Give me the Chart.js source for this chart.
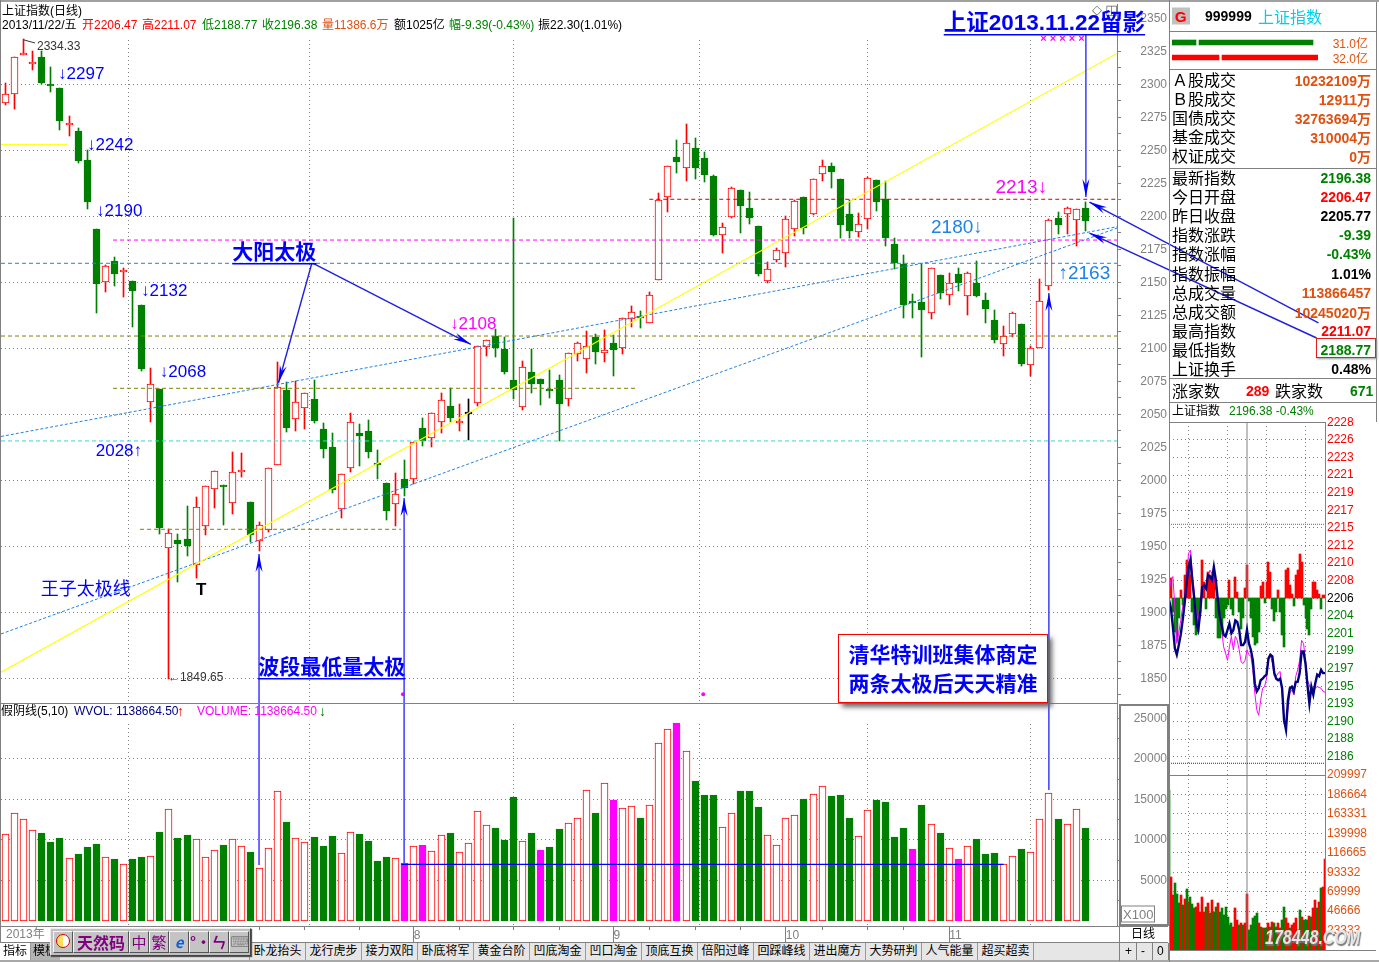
<!DOCTYPE html>
<html>
<head>
<meta charset="utf-8">
<title>上证指数(日线)</title>
<script src="https://cdn.jsdelivr.net/npm/chart.js@4"></script>
<style>
  html, body { margin: 0; padding: 0; background: #fff; overflow: hidden; }
  body { width: 1379px; height: 962px; position: relative; font-family: "Liberation Sans", "Noto Sans CJK SC", sans-serif; font-size: 12px; }
  canvas { position: absolute; display: block; }
  .t { position: absolute; white-space: nowrap; transform: translateY(-50%); line-height: 1.2; }
  .ln { position: absolute; background: #808080; }
  .tab { position: absolute; top: 943px; height: 17px; line-height: 17px; width: 55px; text-align: center; background: #e6e6e6; border-right: 1px solid #9a9a9a; }
  #callout { position: absolute; left: 838px; top: 634px; width: 210px; height: 69px; box-sizing: border-box; border: 1.5px solid #f00; background: #fff; box-shadow: 4px 4px 5px #666; color: #00f; font: bold 21px/29px "Noto Sans CJK SC", sans-serif; text-align: center; padding-top: 4px; z-index: 4; }
  #toolbar { position: absolute; left: 50px; top: 928px; width: 199px; height: 26px; background: #c0c0c0; border: 1px solid #eee; border-right-color: #444; border-bottom-color: #444; box-shadow: 1px 1px 1px #555; z-index: 5; }
  #toolbar span { position: absolute; top: 2px; height: 20px; line-height: 20px; text-align: center; color: #800080; background: #c4c4c4; border: 1px solid #f4f4f4; border-right-color: #555; border-bottom-color: #555; font: bold 15px/20px "Noto Sans CJK SC", sans-serif; overflow: hidden; }
</style>
</head>
<body>
<canvas id="priceChart" width="1379" height="962" style="left:0;top:0"></canvas>
<canvas id="volumeChart" width="1168" height="239" style="left:0;top:703px"></canvas>
<canvas id="flowChart" width="146" height="30" style="left:1172px;top:35px"></canvas>
<canvas id="intradayChart" width="210" height="369" style="left:1169px;top:414px"></canvas>
<canvas id="intradayVolChart" width="210" height="191" style="left:1169px;top:767px"></canvas>
<div id="callout">清华特训班集体商定<br>两条太极后天天精准</div>
<div id="toolbar">
  <span style="left:2px;width:18px"><i style="display:block;width:14px;height:14px;margin:2px;border:1.5px solid #d00;border-radius:50%;box-sizing:border-box;background:linear-gradient(90deg,#ffe060 50%,#fff 50%)"></i></span>
  <span style="left:22px;width:54px;font-family:'Noto Sans CJK SC';font-size:16px">天然码</span>
  <span style="left:78px;width:18px;font-weight:400">中</span>
  <span style="left:98px;width:18px;font-weight:400">繁</span>
  <span style="left:118px;width:18px;color:#1060d0;font-style:italic">e</span>
  <span style="left:138px;width:18px">°•</span>
  <span style="left:158px;width:18px">ㄣ</span>
  <span style="left:178px;width:18px;color:#888;font-family:'DejaVu Sans'">⌨</span>
</div>
<script>
// daily candles (index 0 = leftmost)
const candleOpen = [2286,2293,2323,2316,2320.5,2300.5,2297,2270,2264.6,2242.7,
  2190.4,2150,2166.2,2158.5,2151,2132.8,2059,2069.4,1948.5,1954.8,
  1955.6,1935.6,1965.7,1993.3,1996.4,1982.6,2006,1983.3,1953.8,1962.6,
  2011.4,2068.4,2046.2,2054.5,2061.4,2038.9,2025.3,1978.3,2009,2035.6,
  2037.4,2012.9,1997.7,1981.8,2001,2000.8,2039.6,2031.8,2043.9,2056.3,
  2044.5,2052,2058.3,2101.3,2109.3,2099.5,2076,2055.3,2082.1,2076.5,
  2069.4,2075.8,2061.4,2095.5,2092.2,2108.6,2096.7,2104,2100.5,2122,
  2124.5,2118.9,2151.5,2214.4,2244.9,2236.4,2251.5,2243.9,2230.6,2185.6,
  2199.2,2220,2206.3,2192.7,2150.8,2167.2,2172,2190.7,2214.4,2201.5,
  2231.8,2238.1,2228,2201.5,2188.4,2197.7,2227.3,2212.9,2179,2164.1,
  2135.6,2135.1,2126.5,2155.6,2140.2,2156.3,2139.4,2149.5,2136.6,2121.5,
  2103,2110.6,2118.4,2087.1,2100.5,2147,2198.5,2201.5,2197,2206.47];
const candleHigh = [2301,2321,2334.33,2325,2325,2313,2297,2276,2267,2250,
  2190.4,2163,2169.2,2160.6,2151,2132.8,2085,2069.4,1963,1959.3,
  1980.6,1987.4,1995.4,2007,1996.5,2021.2,2020.5,1983.3,1968.2,2009.5,
  2090,2074.7,2075.5,2065.9,2076,2043.2,2035.6,2004.8,2050.8,2042.7,
  2045.7,2022.8,1997.7,2005.6,2015.4,2029,2046.9,2050.8,2066.4,2069.7,
  2057.8,2061.4,2102,2106,2114.4,2108.6,2198.7,2090.4,2099.5,2076.5,
  2083.6,2079.5,2096.2,2104.8,2112.9,2110.9,2113.9,2109.9,2123,2132.1,
  2128.3,2142.7,2217.4,2238,2257.8,2270,2259.3,2248.7,2231.3,2194.7,
  2222,2220,2218.2,2192.7,2165.2,2175.8,2200.5,2212,2214.4,2228,
  2242.4,2240.4,2228,2212.4,2202.3,2229.5,2227.3,2226.5,2183.6,2170.7,
  2141.2,2164.1,2160.6,2155.6,2156.8,2160.6,2157.8,2166.2,2141.9,2129,
  2116.9,2127.5,2118.4,2101.8,2152.5,2198,2203,2206.8,2205.77,2211.07];
const candleLow = [2284,2281,2322,2311,2300,2294,2265,2261,2240.4,2205.6,
  2127,2143,2147.5,2139,2116.4,2083,2044,1959,1849.65,1923,
  1942.7,1926.3,1958.2,1979.3,1966.2,1974.6,2002.6,1953.3,1946.7,1961,
  2011.4,2036.9,2037.4,2039.1,2043.4,2017.2,1990.6,1971.2,2006,2011.1,
  2017.2,2001,1969.9,1965.7,1988.1,1997.5,2026,2025.5,2035.6,2044.4,
  2037.6,2030.6,2056.6,2094.2,2093.4,2080.6,2061.6,2053.5,2066.2,2057.1,
  2062.4,2029.8,2056.6,2090.7,2081.6,2088.4,2089.9,2079.3,2096,2116.2,
  2115.7,2118.9,2151.5,2203.5,2233.1,2227,2228.5,2226.3,2185.4,2172.5,
  2199,2187.6,2194.4,2155,2149.7,2165.7,2161.4,2185.1,2186.9,2201,
  2227,2221.7,2183.8,2183.8,2184.6,2190.4,2204,2177.8,2160.4,2123.2,
  2123.2,2093.7,2122.5,2137.4,2133.1,2143.4,2125.5,2138.9,2119.4,2104.3,
  2094.4,2108.8,2086.9,2079,2100.5,2144.2,2186.6,2186.6,2177.8,2188.77];
const candleClose = [2293,2321,2324,2317,2301,2300,2272.5,2271,2242,2211,
  2148.7,2162,2156.3,2159,2143.7,2084.3,2072.7,1964,1960,1952,
  1950.3,1979.5,1995.4,2007,1995.2,2006,2007.6,1958.6,1965.9,2009.5,
  2070.5,2039.9,2059.1,2065.9,2044.9,2024,1992.9,2004.8,2043.9,2033.8,
  2021.8,2011.4,1977,1989.9,1994.4,2029,2030,2050.8,2060.6,2047.5,
  2045,2052,2101.8,2106,2100.3,2082.1,2068.7,2085.6,2073.2,2073.2,
  2067.9,2058.1,2096.2,2103.8,2101.5,2097.5,2098.5,2098.7,2122.7,2127.3,
  2123.5,2140.2,2212.4,2237.9,2241.4,2255.3,2236.9,2231.6,2186.1,2191.7,
  2221.2,2208.1,2199,2156.3,2159.8,2174.2,2197.7,2211.4,2191.2,2228,
  2237.9,2233.8,2193.7,2189.1,2193.9,2229,2211.1,2183.8,2164.6,2133.1,
  2134.6,2129.3,2160.6,2142.2,2149.2,2149.7,2156.8,2139.9,2129.8,2106.3,
  2109.1,2126.5,2088.1,2100.5,2135.6,2197.2,2193.7,2206.6,2205.77,2196.38];

// daily volume (x100), the lowest-volume days are marked separately
const volumeValues = [10680,13269,12529,11173,10844,9735,10228,7721,8255,9118,
  9488,7885,7638,7022,7638,7885,8008,10967,13762,10228,
  10598,10063,7885,8707,9365,10063,9241,8501,6488,8995,
  16023,12200,10228,9735,10351,9241,10474,8337,10967,10721,
  9858,7392,7885,7721,7145,9200,9365,8584,10557,10844,
  8460,9570,13516,11790,11461,9981,15283,9817,10844,8748,
  9118,11337,12036,12653,16105,13310,16968,14954,13886,14132,
  12694,14256,21900,23626,24407,20914,17256,15530,15530,11543,
  13269,16023,16023,14050,10557,9323,12653,13022,15036,15612,
  16598,15406,15530,12694,10433,13639,14913,14667,10351,11461,
  8871,14297,11913,10844,8954,7638,9200,10104,8255,8378,
  6981,7967,8871,8460,12529,15735,12570,11913,13762,11461];
const lowVolumeDays = [44,46,59,67,74,100,105];
const volumeFloor = 6985;
const volumeFloorFrom = 43.6;
const volumeFloorTo = 110;
const volumeTicks = [2500,5000,7500,10000,12500,15000,17500,20000,22500,25000];

// month gridlines and the small date ticks under the volume panel
const monthIndex = [5,22,45,67,86,104];
const monthLabels = ['','','8','9','10','11'];
const weekIndex = [28,33,39,50,56,61,71,76,81,90,95,99];

// horizontal support / resistance levels
const levelPrices = [2182,2164.4,2109.3,2069.7,1962.9,2029.8,2212.9];
const levelFrom = [11.85,-0.5,-0.5,11.85,14.83,-0.5,70.95];
const levelTo = [122.5,122.5,122.5,69.7,43.6,122.5,122.5];

// hand drawn trend lines, [left, right]
const trendIndex = [-0.5,122.5];
const yellowTrend = [1854.7,2323.4];
const upperTrend = [2033.2,2192.1];
const lowerTrend = [1883.6,2191.1];
const yellowStub = [2254.5,2254.5];
const yellowStubIndex = [-0.5,6.8];
const markerDays = [43.8,76.9];
const markerPrice = 1838;

// notes on the price panel
const noteTexts = ['↓2297','↓2242','↓2190','↓2132','↓2068','2028↑','王子太极线','T','←1849.65','2334.33','↓2108','2213↓','2180↓','↑2163','大阳太极','波段最低量太极','◇','◫','上证2013.11.22留影','× × × × ×'];
const noteIndex = [5.79,8.98,9.98,14.94,17,9.94,3.88,21,17.9,3.47,49,109.1,102,116.05,25,27.85,119.75,121.2,103.4,114.05];
const notePrices = [2307.8,2254,2204,2143.4,2082,2022.2,1918.4,1916.9,1850.2,2328.5,2118.4,2221.4,2191.2,2156.3,2172.2,1857.9,2355.5,2355.5,2345.7,2334.7];
const noteKinds = ['blue','blue','blue','blue','blue','blue','thin','black','small','small','pink','pinkBig','sky','sky','big','big','icon','icon','title','tiny'];

// arrows: from -> tip, in day index and price
const arrowFromIndex = [33.76,33.9,27.94,43.93,114.99,119.07,144.7,144.5];
const arrowFromPrice = [2164.4,2164.4,1708.6,1710.1,1765.4,2337.3,2119.2,2107.8];
const arrowToIndex = [30.08,51.28,27.94,43.93,114.99,119.07,119.46,119.46];
const arrowToPrice = [2073.7,2103,1944.2,1986.6,2141.9,2214.6,2210.8,2187.3];

// intraday panel, one sample every 3 minutes
const minuteTicks = [60,120,180];
const intradayPrice = [2205.6,2204.5,2202.2,2199.5,2198.7,2199.9,2201.2,2203,2205.1,2207.6,2209.7,2210.6,2207.9,2205.6,2202.6,2201.8,2203.9,2207.2,2207.4,2207,
  2208.7,2208.5,2208.1,2209.7,2208.1,2205.6,2203.5,2202.4,2201.2,2201,2201.8,2202.6,2201.4,2201.8,2203,2202.8,2201.8,2199.9,2199.9,2200.3,
  2201.8,2200.1,2199.3,2198,2195.1,2194.1,2194.5,2195.5,2195.7,2196,2196.2,2198.2,2198.7,2198.5,2196.4,2195.7,2195.5,2195.7,2194.5,2190.5,
  2189.3,2193,2194.5,2194.7,2194.1,2195.3,2195.3,2196.4,2199.1,2199.1,2197.6,2194.9,2192.6,2194.7,2193.7,2195.1,2196.2,2196,2196.8,2196.4,2196.4];
const intradayAvg = [2206.4,2208.1,2208.5,2204.7,2200.1,2201.4,2203,2204.7,2206,2208.1,2211.4,2211.8,2208.9,2206.4,2203.9,2203,2205.1,2206.8,2207.4,2206.8,
  2208.5,2209.3,2208.9,2209.3,2206.8,2206,2203.5,2201.8,2199.7,2198.9,2198,2199.7,2201,2199.3,2201,2200.5,2199.3,2197.8,2197.6,2198,
  2199.3,2198.7,2198.5,2196.8,2193.9,2191.8,2191.1,2193,2194.5,2194.7,2195.7,2198.5,2198.7,2197.6,2196,2196,2196.4,2196.6,2193.9,2190.1,
  2189.5,2191.8,2193.9,2194.3,2193.7,2196,2196.8,2198,2200.5,2200.1,2198,2195.5,2194.9,2193.9,2194.7,2194.5,2194.7,2194.6,2194.5,2194.1,2194];
const intradayFlow = [1.3,2.5,-1.7,-4.2,-5.4,-2.5,1,-0.8,2.9,4.8,4.6,2.9,-1.7,-3.3,-4.6,-4.2,-1.7,4.8,2.1,-1.3,
  3.3,2.9,2.5,3.1,-2.5,-5,-5,-3.8,-2.5,-1.3,-0.8,2.3,-1.3,-2.1,2.7,0.8,-1.7,-3.8,-2.5,1.3,
  4.2,-0.4,-2.5,-4.8,-5.8,-5.6,-4.2,1.5,2.1,-0.6,2.1,4.6,3.3,-1.3,-2.9,-1.7,1,-1.7,-4.6,-6.1,
  3.6,3.8,1.7,0.6,-1,2.9,3.6,5.6,4.6,-0.8,-2.5,-3.8,-4.6,-1.3,2.1,2.1,1,0.6,-1.3,0.4,0.4];
const intradayVolume = [192000,88000,66000,80000,67200,56000,66000,54000,60800,72800,58000,64000,55200,50000,51200,56000,46000,63200,46000,52000,
  56000,44000,60000,46000,52000,56000,46000,50000,42000,52000,40000,30000,32000,28000,50000,36000,30000,32000,30000,32000,
  67200,24000,30000,38000,40800,44000,32000,28000,26000,26000,26000,32000,28000,34000,32000,28000,32000,26000,36000,52000,
  38000,32000,26000,30000,32000,38000,24000,48000,40000,36000,36000,36000,40800,40000,50000,60000,50000,58000,74000,76000,108800];
const intradayVolUp = [0,1,1,0,0,0,1,0,1,0,1,0,0,0,1,1,1,1,1,0,
  1,0,1,0,0,1,0,0,0,0,0,0,0,1,1,1,0,1,0,1,
  1,0,0,0,0,0,1,0,1,0,0,1,0,1,0,0,1,1,0,0,
  1,1,0,1,1,1,0,0,1,0,0,0,1,0,1,1,0,1,0,1,1];
const prevClose = 2205.77;
const intradayTicks = [2227.83,2225.62,2223.42,2221.21,2219,2216.8,2214.59,2212.39,2210.18,2207.98,2205.77,2203.56,2201.36,2199.15,2196.95,2194.74,2192.53,2190.33,2188.12,2185.92];
const intradayVolTicks = [23333,46666,69999,93332,116665,139998,163331,186664,209997];
const upperBand = 2215.04;
const lowerBand = 2185.1;

// buy / sell bars at the top of the side panel
const flowNames = ['31.0亿','32.0亿'];
const flowLead = [24,47];
const flowGap = [3,3];
const flowRest = [114,96];

// side panel quote table
const tradeNames = ['Ａ股成交','Ｂ股成交','国债成交','基金成交','权证成交'];
const tradeValues = ['10232109万','12911万','32763694万','310004万','0万'];
const quoteNames = ['最新指数','今日开盘','昨日收盘','指数涨跌','指数涨幅','指数振幅','总成交量','总成交额','最高指数','最低指数','上证换手'];
const quoteValues = ['2196.38','2206.47','2205.77','-9.39','-0.43%','1.01%','113866457','10245020万','2211.07','2188.77','0.48%'];
const tabNames = ['卧龙抬头','龙行虎步','接力双阳','卧底将军','黄金台阶','凹底淘金','凹口淘金','顶底互换','倍阳过峰','回踩峰线','进出魔方','大势研判','人气能量','超买超卖'];

const RED = '#ff0000', GREEN = '#008000', PINK = '#ff00ff', GRAY = '#808080', SKY = '#1e82e6', ORANGE = '#e05010';
const LATIN = '"Liberation Sans","Noto Sans CJK SC",sans-serif';
const CJK = '"Noto Sans CJK SC",sans-serif';

Chart.defaults.animation = false;
Chart.defaults.font.family = LATIN;
Chart.defaults.font.size = 12;

// the terminal draws on whole pixels, so snap the bars the same way
const snapBars = {
  id: 'snapBars',
  afterDatasetsUpdate(chart) {
    chart.getSortedVisibleDatasetMetas().forEach(meta => {
      if (meta.type !== 'bar') return;
      meta.data.forEach(el => {
        el.x = el.width % 2 ? Math.floor(el.x) + 0.5 : Math.round(el.x);
        el.y = Math.round(el.y);
        el.base = Math.round(el.base);
        if (meta.controller.getDataset().minBody && Math.abs(el.y - el.base) < 2) el.base = el.y + 2;
      });
    });
  }
};

function lineSet(xs, ys, color, dash, width, order) {
  return {
    type: 'line',
    data: xs.map((x, i) => ({ x: x, y: ys[i] })),
    borderColor: color,
    borderWidth: width,
    borderDash: dash,
    pointRadius: 0,
    order: order,
    tension: 0
  };
}

// tick padding must not push the plot area in, the panels are pixel fitted
function fitWidth(width) {
  return s => { s.width = width; s.paddingTop = 0; s.paddingBottom = 0; };
}
function fitHeight(height) {
  return s => { s.height = height; s.paddingLeft = 0; s.paddingRight = 0; };
}

const candleColor = i => candleClose[i] > candleOpen[i] ? RED : candleClose[i] < candleOpen[i] ? GREEN : '#000000';

// ---------- daily price panel ----------
const noteFonts = {
  blue: ['17px ' + LATIN, '#0000ff'],
  thin: ['18px ' + CJK, '#0000ff'],
  black: ['bold 17px ' + LATIN, '#000000'],
  small: ['12px ' + LATIN, '#333333'],
  pink: ['17px ' + LATIN, PINK],
  pinkBig: ['19px ' + LATIN, PINK],
  sky: ['19px ' + LATIN, SKY],
  big: ['bold 21px ' + LATIN, '#0000ff'],
  title: ['bold 22.5px ' + LATIN, '#0000ff'],
  icon: ['13px "DejaVu Sans",sans-serif', '#666666'],
  tiny: ['bold 11px ' + LATIN, PINK]
};

function drawArrow(ctx, x0, y0, x1, y1) {
  const a = Math.atan2(y1 - y0, x1 - x0);
  const vertical = x0 === x1;
  ctx.strokeStyle = vertical ? '#4848ff' : '#2020e0';
  ctx.lineWidth = vertical ? 1.6 : 1.4;
  ctx.beginPath();
  ctx.moveTo(x0, y0);
  ctx.lineTo(x1, y1);
  ctx.stroke();
  ctx.fillStyle = '#0000ff';
  ctx.beginPath();
  ctx.moveTo(x1, y1);
  ctx.lineTo(x1 - 18 * Math.cos(a) + 3.5 * Math.sin(a), y1 - 18 * Math.sin(a) - 3.5 * Math.cos(a));
  ctx.lineTo(x1 - 12 * Math.cos(a), y1 - 12 * Math.sin(a));
  ctx.lineTo(x1 - 18 * Math.cos(a) - 3.5 * Math.sin(a), y1 - 18 * Math.sin(a) + 3.5 * Math.cos(a));
  ctx.closePath();
  ctx.fill();
}

const priceNotes = {
  id: 'priceNotes',
  beforeDatasetsDraw(chart) {
    // gridlines stop under the two header rows
    const ctx = chart.ctx, area = chart.chartArea;
    ctx.save();
    ctx.fillStyle = '#fff';
    ctx.fillRect(area.left, area.top, area.width, chart.scales.y.getPixelForValue(2335) - area.top);
    ctx.restore();
  },
  afterDraw(chart) {
    const ctx = chart.ctx, sx = chart.scales.x, sy = chart.scales.y;
    ctx.save();
    arrowFromIndex.forEach((v, i) => {
      drawArrow(ctx, sx.getPixelForValue(v), sy.getPixelForValue(arrowFromPrice[i]), sx.getPixelForValue(arrowToIndex[i]), sy.getPixelForValue(arrowToPrice[i]));
    });
    ctx.textBaseline = 'middle';
    noteTexts.forEach((t, i) => {
      const kind = noteKinds[i];
      const f = noteFonts[kind];
      const x = sx.getPixelForValue(noteIndex[i]), y = sy.getPixelForValue(notePrices[i]);
      ctx.font = f[0];
      ctx.fillStyle = f[1];
      ctx.fillText(t, x, y);
      if (kind === 'big' || kind === 'title') {
        ctx.fillRect(x, Math.round(y) + 10, ctx.measureText(t).width, 1.5);
      }
    });
    // leader of the 2334.33 high
    ctx.strokeStyle = '#333';
    ctx.lineWidth = 1;
    ctx.beginPath();
    ctx.moveTo(sx.getPixelForValue(2.04), sy.getPixelForValue(2333.6));
    ctx.lineTo(sx.getPixelForValue(3.25), sy.getPixelForValue(2331.3));
    ctx.stroke();
    ctx.restore();
  }
};

const levelStyles = [[PINK,[4,3]],[SKY,[4,3]],['#808000',[4,3]],['#808000',[4,3]],['#808000',[4,3]],['#30d8d8',[4,3]],['#d00000',[4,3]]];
const dayIndex = candleOpen.map((_, i) => i);

new Chart(document.getElementById('priceChart'), {
  type: 'bar',
  plugins: [snapBars, priceNotes],
  data: {
    datasets: [
      ...levelPrices.map((p, i) => lineSet([levelFrom[i], levelTo[i]], [p, p], levelStyles[i][0], levelStyles[i][1], 1, 1)),
      lineSet(trendIndex, upperTrend, SKY, [3,2], 1, 1),
      lineSet(trendIndex, lowerTrend, SKY, [3,2], 1, 1),
      lineSet(trendIndex, yellowTrend, '#ffff00', [], 1.2, 0),
      lineSet(yellowStubIndex, yellowStub, '#ffff00', [], 1, 0),
      {
        type: 'line',
        data: markerDays.map(d => ({ x: d, y: markerPrice })),
        showLine: false,
        pointRadius: 2,
        pointBackgroundColor: PINK,
        pointBorderWidth: 0,
        order: 0
      },
      {
        data: dayIndex.map(i => ({ x: i, y: [candleOpen[i], candleClose[i]] })),
        barThickness: 7,
        grouped: false,
        minBody: true,
        borderSkipped: false,
        borderWidth: 1,
        borderColor: dayIndex.map(candleColor),
        backgroundColor: dayIndex.map(i => candleClose[i] > candleOpen[i] ? '#ffffff' : candleColor(i)),
        order: 2
      },
      {
        data: dayIndex.map(i => ({ x: i, y: [candleLow[i], candleHigh[i]] })),
        barThickness: 1,
        grouped: false,
        borderWidth: 0,
        backgroundColor: dayIndex.map(candleColor),
        order: 3
      }
    ]
  },
  options: {
    responsive: false,
    layout: { autoPadding: false, padding: { left: 1, top: 4, right: 212, bottom: 259 } },
    plugins: { legend: { display: false }, tooltip: { enabled: false } },
    events: [],
    scales: {
      x: {
        type: 'linear',
        offset: false,
        min: -0.5,
        max: 122.5,
        afterBuildTicks: s => { s.ticks = monthIndex.map(v => ({ value: v })); },
        afterFit: fitHeight(0),
        ticks: { display: false },
        grid: { color: GRAY, drawTicks: false },
        border: { display: false, dash: [1,3] }
      },
      y: {
        position: 'right',
        min: 1831.3,
        max: 2360.83,
        afterFit: fitWidth(50),
        ticks: {
          stepSize: 12.5,
          includeBounds: false,
          autoSkip: false,
          color: GRAY,
          padding: 18,
          crossAlign: 'far',
          callback: v => (v % 25 === 0 ? String(v) : '')
        },
        grid: {
          tickLength: 4,
          tickColor: GRAY,
          color: c => (c.tick && c.tick.value % 50 === 0 && c.tick.value < 2350 ? GRAY : 'transparent')
        },
        border: { color: GRAY, dash: [1,3] }
      }
    }
  }
});

// ---------- volume panel ----------
const volumeAxis = {
  id: 'volumeAxis',
  beforeDatasetsDraw(chart) {
    const area = chart.chartArea;
    chart.ctx.clearRect(area.left, area.top, area.width, chart.scales.y.getPixelForValue(24400) - area.top);
  },
  afterDraw(chart) {
    const ctx = chart.ctx, sx = chart.scales.x, bottom = chart.chartArea.bottom;
    ctx.save();
    ctx.fillStyle = GRAY;
    monthIndex.forEach((m, i) => {
      if (monthLabels[i]) ctx.fillRect(Math.floor(sx.getPixelForValue(m)), bottom, 1, 16);
    });
    weekIndex.forEach(m => ctx.fillRect(Math.floor(sx.getPixelForValue(m)), bottom, 1, 4));
    ctx.restore();
  }
};

const isLowVolume = i => lowVolumeDays.includes(i);

new Chart(document.getElementById('volumeChart'), {
  type: 'bar',
  plugins: [snapBars, volumeAxis],
  data: {
    datasets: [
      lineSet([volumeFloorFrom, volumeFloorTo], [volumeFloor, volumeFloor], '#0000ff', [], 1.2, 0),
      {
        data: dayIndex.map(i => ({ x: i, y: volumeValues[i] })),
        barThickness: 7,
        grouped: false,
        borderSkipped: false,
        borderWidth: 1,
        borderColor: dayIndex.map(i => isLowVolume(i) ? PINK : candleClose[i] >= candleOpen[i] ? RED : GREEN),
        backgroundColor: dayIndex.map(i => isLowVolume(i) ? PINK : candleClose[i] >= candleOpen[i] ? '#ffffff' : GREEN),
        order: 1
      }
    ]
  },
  options: {
    responsive: false,
    layout: { autoPadding: false, padding: { left: 1, top: 1, right: 1, bottom: 0 } },
    plugins: { legend: { display: false }, tooltip: { enabled: false } },
    events: [],
    scales: {
      x: {
        type: 'linear',
        offset: false,
        min: -0.5,
        max: 122.5,
        afterBuildTicks: s => { s.ticks = monthIndex.map(v => ({ value: v })); },
        afterFit: fitHeight(16),
        ticks: {
          color: GRAY,
          align: 'start',
          padding: 2,
          maxRotation: 0,
          autoSkip: false,
          callback: v => monthLabels[monthIndex.indexOf(v)]
        },
        grid: { color: GRAY, drawTicks: false },
        border: { display: false, dash: [1,3] }
      },
      y: {
        position: 'right',
        min: -622.7,
        max: 26751,
        afterBuildTicks: s => { s.ticks = volumeTicks.map(v => ({ value: v })); },
        afterFit: fitWidth(50),
        ticks: {
          autoSkip: false,
          color: GRAY,
          padding: 11,
          crossAlign: 'far',
          callback: v => (v % 5000 === 0 ? String(v) : '')
        },
        grid: {
          tickLength: 4,
          tickColor: GRAY,
          color: c => (c.tick && c.tick.value % 5000 === 0 && c.tick.value < 25000 ? GRAY : 'transparent')
        },
        border: { color: GRAY, dash: [1,3] }
      }
    }
  }
});

// ---------- buy / sell strength bars ----------
new Chart(document.getElementById('flowChart'), {
  type: 'bar',
  data: {
    labels: flowNames,
    datasets: [
      { data: flowLead, backgroundColor: [GREEN, RED], barThickness: 5 },
      { data: flowGap, backgroundColor: 'transparent', barThickness: 5 },
      { data: flowRest, backgroundColor: [GREEN, RED], barThickness: 5 }
    ]
  },
  options: {
    indexAxis: 'y',
    responsive: false,
    layout: { padding: 0 },
    plugins: { legend: { display: false }, tooltip: { enabled: false } },
    events: [],
    scales: {
      x: { display: false, stacked: true, min: 0, max: 146 },
      y: { display: false, stacked: true }
    }
  }
});

// ---------- intraday panels ----------
const minuteIndex = intradayPrice.map((_, i) => i * 3);
const minuteGridX = {
  type: 'linear',
  offset: false,
  min: 0,
  max: 240,
  afterBuildTicks: s => { s.ticks = minuteTicks.map(v => ({ value: v })); },
  afterFit: fitHeight(0),
  ticks: { display: false },
  grid: { color: GRAY, drawTicks: false },
  border: { display: false, dash: [1,3] }
};

new Chart(document.getElementById('intradayChart'), {
  type: 'bar',
  plugins: [snapBars],
  data: {
    datasets: [
      lineSet(minuteIndex, intradayPrice, '#000080', [], 2.4, 0),
      lineSet(minuteIndex, intradayAvg, PINK, [], 1, 1),
      lineSet([0,240], [upperBand,upperBand], PINK, [1,1], 1, 2),
      lineSet([0,240], [lowerBand,lowerBand], '#005000', [1,1], 1, 2),
      lineSet([120,120], [2183.63,2227.86], GRAY, [], 1, 2),
      {
        data: minuteIndex.map((m, i) => ({ x: m, y: [prevClose, prevClose + intradayFlow[i]] })),
        barThickness: 2,
        grouped: false,
        borderWidth: 0,
        backgroundColor: intradayFlow.map(v => v >= 0 ? RED : GREEN),
        order: 3
      }
    ]
  },
  options: {
    responsive: false,
    layout: { autoPadding: false, padding: { left: 0, top: 8, right: 0, bottom: 8 } },
    plugins: { legend: { display: false }, tooltip: { enabled: false } },
    events: [],
    scales: {
      x: minuteGridX,
      y: {
        position: 'right',
        min: 2183.63,
        max: 2227.86,
        afterFit: fitWidth(54),
        afterBuildTicks: s => { s.ticks = intradayTicks.map(v => ({ value: v })); },
        ticks: {
          autoSkip: false,
          padding: 2,
          color: c => (c.tick.value > prevClose ? RED : c.tick.value < prevClose ? GREEN : '#000000'),
          callback: v => v.toFixed(0)
        },
        grid: { color: GRAY, drawTicks: false },
        border: { color: GRAY, dash: [1,3] }
      }
    }
  }
});

new Chart(document.getElementById('intradayVolChart'), {
  type: 'bar',
  plugins: [snapBars],
  data: {
    datasets: [
      lineSet([120,120], [0,209997], GRAY, [], 1, 0),
      {
        data: minuteIndex.map((m, i) => ({ x: m, y: intradayVolume[i] })),
        barThickness: 2,
        grouped: false,
        borderWidth: 0,
        backgroundColor: intradayVolUp.map(v => v ? RED : GREEN),
        order: 1
      }
    ]
  },
  options: {
    responsive: false,
    layout: { autoPadding: false, padding: { left: 0, top: 8, right: 0, bottom: 8 } },
    plugins: { legend: { display: false }, tooltip: { enabled: false } },
    events: [],
    scales: {
      x: Object.assign({}, minuteGridX),
      y: {
        position: 'right',
        min: 0,
        max: 209997,
        afterFit: fitWidth(54),
        afterBuildTicks: s => { s.ticks = intradayVolTicks.map(v => ({ value: v })); },
        ticks: { autoSkip: false, padding: 2, color: ORANGE, callback: v => String(v) },
        grid: { color: GRAY, drawTicks: false },
        border: { color: GRAY, dash: [1,3] }
      }
    }
  }
});

// ---------- terminal chrome, all plain text ----------
function put(text, left, y, color, font, right) {
  const el = document.createElement('div');
  el.className = 't';
  el.textContent = text;
  if (right) el.style.right = (1379 - right) + 'px'; else el.style.left = left + 'px';
  el.style.top = y + 'px';
  el.style.color = color || '#000';
  if (font) el.style.font = font;
  document.body.appendChild(el);
  return el;
}
function rule(left, top, width, height, color) {
  const el = document.createElement('div');
  el.className = 'ln';
  el.style.cssText = `left:${left}px;top:${top}px;width:${width}px;height:${height}px;` + (color ? `background:${color};` : '');
  document.body.appendChild(el);
}

// frame
rule(0, 0, 1379, 2, '#a0a0a0');
rule(0, 0, 1, 962);
rule(1, 703, 1117, 1);
rule(0, 926, 1168, 1);
rule(0, 942, 1168, 1);
rule(0, 943, 1169, 18, '#e6e6e6');
rule(0, 960, 1379, 2, '#a8a8a8');
rule(1169, 0, 1, 962);
rule(1376, 2, 1, 420);
[31, 69, 168, 378, 402, 422, 775, 950].forEach(y => rule(1169, y, y > 420 ? 157 : 207, 1));
rule(1325, 950, 51, 1);
// volume axis box
rule(1119, 704, 49, 2);
rule(1119, 924, 49, 2);
rule(1119, 704, 2, 222);
rule(1167, 704, 2, 222);

// header rows
put('上证指数(日线)', 2, 11, '#000');
const headItems = ['2013/11/22/五','开2206.47','高2211.07','低2188.77','收2196.38','量11386.6万','额1025亿','幅-9.39(-0.43%)','振22.30(1.01%)'];
const headLefts = [2,82,142,202,262,322,394,449,538];
const headColors = ['#000',RED,RED,GREEN,GREEN,ORANGE,'#000',GREEN,'#000'];
headItems.forEach((t, i) => put(t, headLefts[i], 25, headColors[i]));

// volume title
put('假阴线(5,10)', 1, 711, '#000');
put('WVOL: 1138664.50', 74, 711, '#000080');
put('↑', 177, 711, RED, 'bold 14px ' + LATIN);
put('VOLUME: 1138664.50', 197, 711, PINK);
put('↓', 319, 711, GREEN, 'bold 14px ' + LATIN);

// x100 box
const x100 = put('X100', 1121, 914, GRAY, '13px ' + LATIN);
x100.style.border = '1px solid #808080';
x100.style.padding = '0 1px';

// date row, tabs
put('2013年', 6, 934, GRAY);
tabNames.forEach((t, i) => {
  const d = document.createElement('div');
  d.className = 'tab';
  d.style.left = (250 + i * 56) + 'px';
  d.textContent = t;
  document.body.appendChild(d);
});
rule(0, 943, 30, 17, '#ffffff');
put('指标', 3, 951, '#000');
rule(31, 943, 29, 17, '#b4b4b4');
put('模板', 33, 951, '#000');
rule(30, 943, 1, 17, '#9a9a9a');
rule(249, 943, 1, 17, '#9a9a9a');
put('日线', 1131, 934, '#000');
rule(1119, 926, 1, 35);
['+', '-', '0'].forEach((t, i) => {
  put(t, 1125 + i * 16, 951, '#000');
  rule(1136 + i * 16, 943, 1, 17);
});

// side panel top
const gBox = put('G', 1172, 16, RED, 'bold 15px ' + LATIN);
gBox.style.background = '#c0c0c0';
gBox.style.padding = '0 3px';
put('999999', 1205, 16, '#000', 'bold 14px ' + LATIN);
put('上证指数', 1258, 16, '#00d0e8', '16px ' + CJK);
flowNames.forEach((t, i) => put(t, null, 42 + i * 15, ORANGE, '12px ' + LATIN, 1368));

const quoteFont = 'bold 14px ' + LATIN;
const labelFont = '16px ' + CJK;
tradeNames.forEach((t, i) => {
  put(t, 1172, 79 + i * 19.1, '#000', labelFont);
  put(tradeValues[i], null, 80 + i * 19.1, ORANGE, quoteFont, 1371);
});
const quoteColors = [GREEN, RED, '#000', GREEN, GREEN, '#000', ORANGE, ORANGE, RED, GREEN, '#000'];
quoteNames.forEach((t, i) => {
  put(t, 1172, 177 + i * 19.1, '#000', labelFont);
  put(quoteValues[i], null, 178 + i * 19.1, quoteColors[i], quoteFont, 1371);
});
// the low price is boxed in the original
const lowBox = document.createElement('div');
lowBox.style.cssText = 'position:absolute;left:1316px;top:338px;width:60px;height:20px;box-sizing:border-box;border:1px solid #e02020;box-shadow:1px 1px 2px #999';
document.body.appendChild(lowBox);

put('涨家数', 1172, 390, '#000', labelFont);
put('289', 1246, 391, RED, quoteFont);
put('跌家数', 1275, 390, '#000', labelFont);
put('671', 1350, 391, GREEN, quoteFont);

put('上证指数', 1172, 411, '#000');
put('2196.38 -0.43%', 1229, 411, GREEN);

// watermark
const mark = put('178448.COM', 1265, 938, '#e4e4e4', 'italic bold 16px ' + LATIN);
mark.style.textShadow = '1px 1px 1px #777';
mark.style.transform = 'translateY(-50%) scaleY(1.3)';
</script>
</body>
</html>
